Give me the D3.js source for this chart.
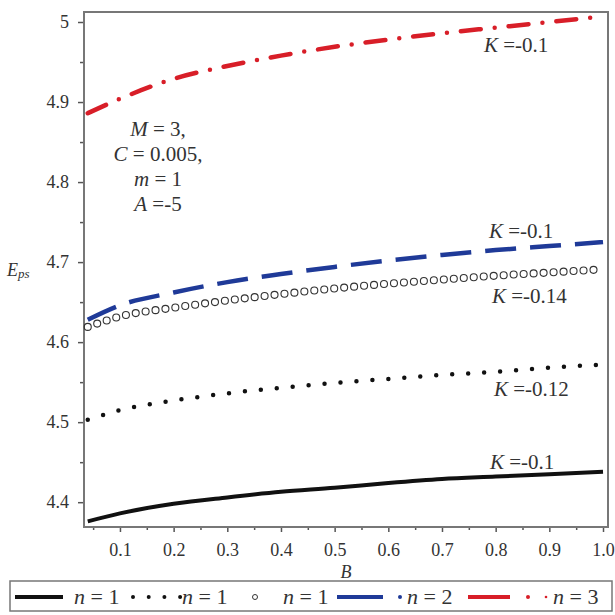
<!DOCTYPE html>
<html>
<head>
<meta charset="utf-8">
<script src="https://cdn.jsdelivr.net/npm/d3@7"></script>
<style>
  body { margin: 0; background: #fff; }
  svg text { font-family: "Liberation Serif", "Times New Roman", Tinos, "DejaVu Serif", serif; fill: #333; }
</style>
</head>
<body>
<div id="chart"></div>
<script>
// values
const B = [0.04, 0.1, 0.2, 0.3, 0.4, 0.5, 0.6, 0.7, 0.8, 0.9, 1.0];
const epsN1K010 = [4.376, 4.386, 4.398, 4.406, 4.413, 4.418, 4.424, 4.429, 4.432, 4.435, 4.438];
const epsN1K012 = [4.503, 4.515, 4.527, 4.536, 4.543, 4.549, 4.554, 4.559, 4.563, 4.568, 4.572];
const epsN1K014 = [4.619, 4.632, 4.643, 4.652, 4.660, 4.667, 4.673, 4.678, 4.683, 4.687, 4.691];
const epsN2K010 = [4.628, 4.646, 4.662, 4.675, 4.685, 4.694, 4.702, 4.709, 4.715, 4.720, 4.725];
const epsN3K010 = [4.886, 4.904, 4.929, 4.945, 4.958, 4.969, 4.978, 4.986, 4.993, 5.000, 5.007];

const xTicks = [0.1, 0.2, 0.3, 0.4, 0.5, 0.6, 0.7, 0.8, 0.9, 1.0];
const yTicks = [4.4, 4.5, 4.6, 4.7, 4.8, 4.9, 5.0];
const params = ["M = 3,", "C = 0.005,", "m = 1", "A =-5"];

const W = 615, H = 615;
const mLeft = 84, mRight = 608, mTop = 12, mBottom = 527;
const serif = '"Liberation Serif", "Times New Roman", Tinos, "DejaVu Serif", serif';

const svg = d3.select("#chart").append("svg").attr("width", W).attr("height", H)
  .attr("font-family", serif);

const x = d3.scaleLinear().domain([0.033, 1.0093]).range([mLeft, mRight]);
const y = d3.scaleLinear().domain([4.369, 5.0125]).range([mBottom, mTop]);

const mkLine = d3.line().x(d => x(d[0])).y(d => y(d[1])).curve(d3.curveMonotoneX);
const pts = vals => B.map((b, i) => [b, vals[i]]);

// axes
const xAxis = d3.axisBottom(x).tickValues(xTicks).tickSize(5).tickPadding(11)
  .tickFormat(d3.format(".1f"));
const xMinor = d3.axisBottom(x).tickValues(d3.range(0.05, 1.0, 0.1)).tickSize(3).tickFormat("");
const yAxis = d3.axisLeft(y).tickValues(yTicks).tickSize(6).tickPadding(9)
  .tickFormat(d => d === 5 ? "5" : d3.format(".1f")(d));
const yMinor = d3.axisLeft(y).tickValues([4.45, 4.55, 4.65, 4.75, 4.85, 4.95]).tickSize(4).tickFormat("");

function styleAxis(g) {
  g.attr("font-family", serif).attr("font-size", 18);
  g.select(".domain").remove();
  g.selectAll("line").attr("stroke", "#555").attr("stroke-width", 1.5);
  g.selectAll("text").attr("fill", "#333");
}
svg.append("g").attr("transform", `translate(0,${mBottom})`).call(xAxis).call(styleAxis);
svg.append("g").attr("transform", `translate(0,${mBottom})`).call(xMinor).call(styleAxis);
svg.append("g").attr("transform", `translate(${mLeft},0)`).call(yAxis).call(styleAxis);
svg.append("g").attr("transform", `translate(${mLeft},0)`).call(yMinor).call(styleAxis);

// frame
svg.append("rect").attr("x", mLeft).attr("y", mTop).attr("width", mRight - mLeft).attr("height", mBottom - mTop)
  .attr("fill", "none").attr("stroke", "#777").attr("stroke-width", 2);

// axis labels
svg.append("text").attr("x", 346).attr("y", 578).attr("text-anchor", "middle")
  .style("font-size", "18px").style("font-style", "italic").text("B");
const eps = svg.append("text").attr("x", 7).attr("y", 276).style("font-size", "18px").style("font-style", "italic");
eps.append("tspan").text("E");
eps.append("tspan").attr("dy", 2).style("font-size", "13px").text("ps");

// curves
const plot = svg.append("g");

plot.append("path").datum(pts(epsN1K010)).attr("d", mkLine)
  .attr("fill", "none").attr("stroke", "#111").attr("stroke-width", 4);

plot.append("path").datum(pts(epsN1K012)).attr("d", mkLine)
  .attr("fill", "none").attr("stroke", "#111").attr("stroke-width", 4.5)
  .attr("stroke-linecap", "round").attr("stroke-dasharray", "0 16");

// circles along the n=1, K=-0.14 curve
const guide = plot.append("path").datum(pts(epsN1K014)).attr("d", mkLine)
  .attr("fill", "none").attr("stroke", "none");
const gNode = guide.node();
const total = gNode.getTotalLength();
const marks = d3.range(0, total, 10).map(l => gNode.getPointAtLength(l));
plot.selectAll(".ring").data(marks).enter().append("circle")
  .attr("cx", d => d.x).attr("cy", d => d.y).attr("r", 3.5)
  .attr("fill", "none").attr("stroke", "#333").attr("stroke-width", 1.1);

plot.append("path").datum(pts(epsN2K010)).attr("d", mkLine)
  .attr("fill", "none").attr("stroke", "#1f3a98").attr("stroke-width", 4.5)
  .attr("stroke-dasharray", "31 14");

plot.append("path").datum(pts(epsN3K010)).attr("d", mkLine)
  .attr("fill", "none").attr("stroke", "#d81e28").attr("stroke-width", 4.5)
  .attr("stroke-linecap", "round").attr("stroke-dasharray", "20 14 0 14");

// parameter block
params.forEach((p, i) => {
  const t = svg.append("text").attr("x", 158).attr("y", 136 + i * 25).attr("text-anchor", "middle")
    .style("font-size", "21px");
  const m = p.match(/^(\S+)(.*)$/);
  t.append("tspan").style("font-style", "italic").text(m[1]);
  t.append("tspan").text(m[2]);
});

// K labels
const kLabels = [
  { x: 484, y: 52, t: "=-0.1" },
  { x: 489, y: 238, t: "=-0.1" },
  { x: 492, y: 303, t: "=-0.14" },
  { x: 494, y: 396, t: "=-0.12" },
  { x: 490, y: 469, t: "=-0.1" }
];
kLabels.forEach(k => {
  const t = svg.append("text").attr("x", k.x).attr("y", k.y).style("font-size", "21px");
  t.append("tspan").style("font-style", "italic").text("K");
  t.append("tspan").text(" " + k.t);
});

// legend
const lg = svg.append("g");
lg.append("rect").attr("x", 10).attr("y", 581).attr("width", 602).attr("height", 30)
  .attr("fill", "#fff").attr("stroke", "#777").attr("stroke-width", 1.5);
const ly = 597;
lg.append("line").attr("x1", 15).attr("x2", 63).attr("y1", ly).attr("y2", ly)
  .attr("stroke", "#111").attr("stroke-width", 4);
lg.append("line").attr("x1", 133).attr("x2", 181).attr("y1", ly).attr("y2", ly)
  .attr("stroke", "#111").attr("stroke-width", 4).attr("stroke-linecap", "round").attr("stroke-dasharray", "0 15.7");
lg.append("circle").attr("cx", 255).attr("cy", ly).attr("r", 2.5)
  .attr("fill", "none").attr("stroke", "#333").attr("stroke-width", 1);
lg.append("line").attr("x1", 337).attr("x2", 383).attr("y1", ly).attr("y2", ly)
  .attr("stroke", "#1f3a98").attr("stroke-width", 4);
lg.append("circle").attr("cx", 400).attr("cy", ly).attr("r", 2).attr("fill", "#1f3a98");
lg.append("line").attr("x1", 468).attr("x2", 510).attr("y1", ly).attr("y2", ly)
  .attr("stroke", "#d81e28").attr("stroke-width", 4);
lg.append("circle").attr("cx", 528).attr("cy", ly).attr("r", 2).attr("fill", "#d81e28");
lg.append("circle").attr("cx", 546).attr("cy", ly).attr("r", 1.3).attr("fill", "#d81e28");

[[74, "1"], [182, "1"], [283, "1"], [407, "2"], [553, "3"]].forEach(([lx, v]) => {
  const t = lg.append("text").attr("x", lx).attr("y", ly + 7).style("font-size", "22px");
  t.append("tspan").style("font-style", "italic").text("n");
  t.append("tspan").text(" = " + v);
});
</script>
</body>
</html>
